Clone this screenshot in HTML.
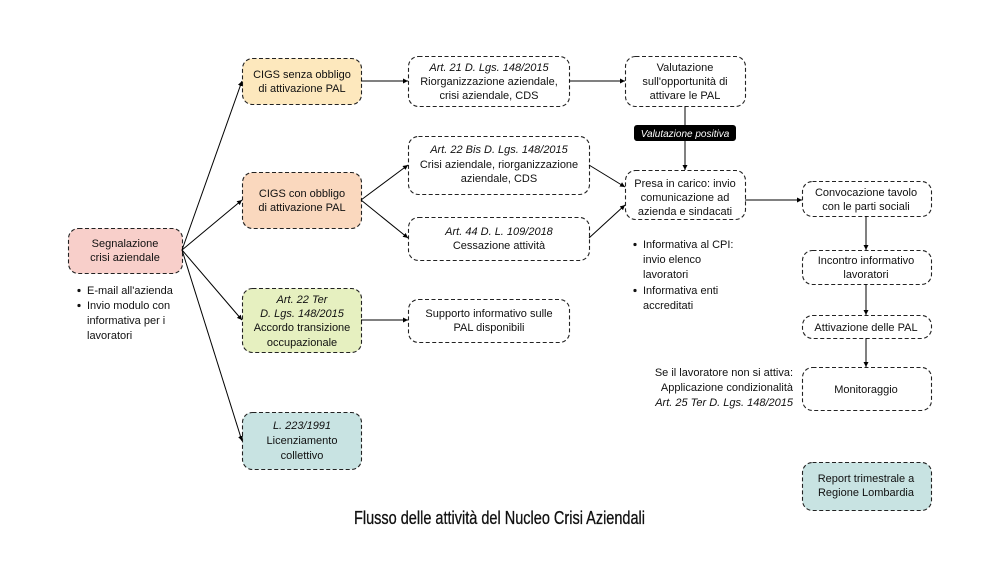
<!DOCTYPE html>
<html><head><meta charset="utf-8"><style>
html,body{margin:0;padding:0;background:#fff;}
svg{display:block;font-family:"Liberation Sans",sans-serif;}
</style></head><body>
<svg width="1000" height="563" viewBox="0 0 1000 563" xmlns="http://www.w3.org/2000/svg">
<defs><marker id="a" markerWidth="6" markerHeight="6" refX="5" refY="3" orient="auto" markerUnits="userSpaceOnUse"><path d="M0,0.5 L5,3 L0,5.5 z" fill="#000"/></marker></defs>
<rect width="1000" height="563" fill="#fff"/>
<g stroke="#222" stroke-width="1.1" stroke-dasharray="4,2.5">
<rect x="68.5" y="228.5" width="114" height="45" rx="10" fill="#f8cfca"/>
<rect x="242.5" y="58.5" width="119" height="46" rx="10" fill="#fde8bd"/>
<rect x="242.5" y="172.5" width="119" height="56" rx="10" fill="#fad8be"/>
<rect x="242.5" y="288.5" width="119" height="64" rx="10" fill="#e6f0c0"/>
<rect x="242.5" y="412.5" width="119" height="57" rx="10" fill="#c8e3e2"/>
<rect x="408.5" y="56.5" width="161" height="50" rx="10" fill="#fff"/>
<rect x="408.5" y="136.5" width="181" height="58" rx="10" fill="#fff"/>
<rect x="408.5" y="217.5" width="181" height="43" rx="10" fill="#fff"/>
<rect x="408.5" y="299.5" width="161" height="43" rx="10" fill="#fff"/>
<rect x="625.5" y="56.5" width="120" height="50" rx="10" fill="#fff"/>
<rect x="625.5" y="170.5" width="120" height="49" rx="10" fill="#fff"/>
<rect x="802.5" y="181.5" width="129" height="35" rx="10" fill="#fff"/>
<rect x="802.5" y="250.5" width="129" height="34" rx="10" fill="#fff"/>
<rect x="802.5" y="315.5" width="129" height="23" rx="10" fill="#fff"/>
<rect x="802.5" y="367.5" width="129" height="43" rx="10" fill="#fff"/>
<rect x="802.5" y="462.5" width="129" height="48" rx="10" fill="#c8e3e2"/>
</g>
<g stroke="#000" stroke-width="1" fill="none" marker-end="url(#a)">
<line x1="182" y1="250" x2="242" y2="81"/>
<line x1="182" y1="250" x2="242" y2="200"/>
<line x1="182" y1="250" x2="242" y2="320"/>
<line x1="182" y1="250" x2="242" y2="441"/>
<line x1="361" y1="81" x2="408" y2="81"/>
<line x1="361" y1="200" x2="408" y2="165"/>
<line x1="361" y1="200" x2="408" y2="238"/>
<line x1="361" y1="320" x2="408" y2="320"/>
<line x1="569" y1="81" x2="625" y2="81"/>
<line x1="685" y1="106" x2="685" y2="170"/>
<line x1="589" y1="165" x2="625" y2="187"/>
<line x1="589" y1="238" x2="625" y2="205"/>
<line x1="745" y1="200" x2="802" y2="200"/>
<line x1="866" y1="216" x2="866" y2="250"/>
<line x1="866" y1="284" x2="866" y2="315"/>
<line x1="866" y1="338" x2="866" y2="367"/>
</g>
<rect x="634" y="125" width="102" height="16" rx="3" fill="#000"/>
<text x="685" y="137" font-size="10" font-style="italic" fill="#fff" text-anchor="middle">Valutazione positiva</text>
<g font-size="11" fill="#111" text-anchor="middle">
<text x="125" y="247">Segnalazione</text><text x="125" y="261">crisi aziendale</text>
<text x="302" y="78">CIGS senza obbligo</text><text x="302" y="92">di attivazione PAL</text>
<text x="302" y="197">CIGS con obbligo</text><text x="302" y="211">di attivazione PAL</text>
<text x="302" y="303" font-style="italic">Art. 22 Ter</text><text x="302" y="317" font-style="italic">D. Lgs. 148/2015</text><text x="302" y="331">Accordo transizione</text><text x="302" y="346">occupazionale</text>
<text x="302" y="429" font-style="italic">L. 223/1991</text><text x="302" y="444">Licenziamento</text><text x="302" y="459">collettivo</text>
<text x="489" y="71" font-style="italic">Art. 21 D. Lgs. 148/2015</text><text x="489" y="85">Riorganizzazione aziendale,</text><text x="489" y="99">crisi aziendale, CDS</text>
<text x="499" y="153" font-style="italic">Art. 22 Bis D. Lgs. 148/2015</text><text x="499" y="168">Crisi aziendale, riorganizzazione</text><text x="499" y="182">aziendale, CDS</text>
<text x="499" y="235" font-style="italic">Art. 44 D. L. 109/2018</text><text x="499" y="249">Cessazione attività</text>
<text x="489" y="317">Supporto informativo sulle</text><text x="489" y="331">PAL disponibili</text>
<text x="685" y="71">Valutazione</text><text x="685" y="85">sull'opportunità di</text><text x="685" y="99">attivare le PAL</text>
<text x="685" y="187">Presa in carico: invio</text><text x="685" y="201">comunicazione ad</text><text x="685" y="215">azienda e sindacati</text>
<text x="866" y="196">Convocazione tavolo</text><text x="866" y="210">con le parti sociali</text>
<text x="866" y="264">Incontro informativo</text><text x="866" y="278">lavoratori</text>
<text x="866" y="331">Attivazione delle PAL</text>
<text x="866" y="393">Monitoraggio</text>
<text x="866" y="482">Report trimestrale a</text><text x="866" y="496">Regione Lombardia</text>
</g>
<g font-size="11" fill="#111">
<text x="87" y="294">E-mail all'azienda</text><text x="87" y="309">Invio modulo con</text><text x="87" y="324">informativa per i</text><text x="87" y="339">lavoratori</text>
<text x="643" y="248">Informativa al CPI:</text><text x="643" y="263">invio elenco</text><text x="643" y="278">lavoratori</text><text x="643" y="294">Informativa enti</text><text x="643" y="309">accreditati</text>
</g>
<g fill="#111"><circle cx="79" cy="290.5" r="1.6"/><circle cx="79" cy="305.5" r="1.6"/><circle cx="635" cy="244.5" r="1.6"/><circle cx="635" cy="290.5" r="1.6"/></g>
<g font-size="11" fill="#111" text-anchor="end">
<text x="793" y="376">Se il lavoratore non si attiva:</text><text x="793" y="391">Applicazione condizionalità</text><text x="793" y="406" font-style="italic">Art. 25 Ter D. Lgs. 148/2015</text>
</g>
<text x="354" y="524" font-size="18" fill="#111" stroke="#111" stroke-width="0.3" textLength="291" lengthAdjust="spacingAndGlyphs">Flusso delle attività del Nucleo Crisi Aziendali</text>
</svg>
</body></html>
